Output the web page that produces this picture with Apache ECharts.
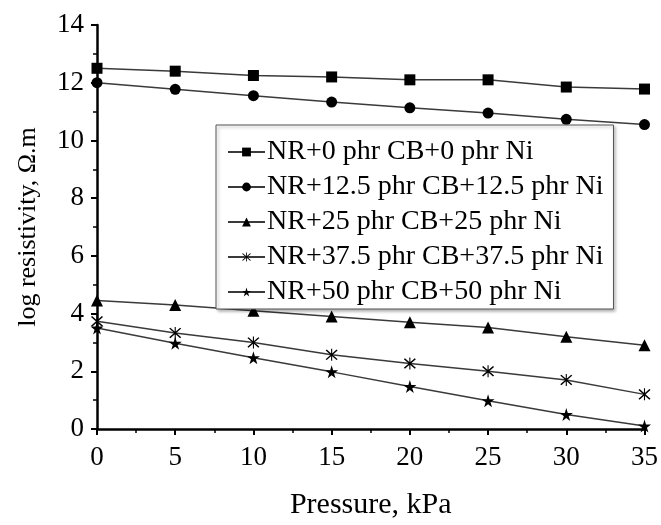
<!DOCTYPE html>
<html>
<head>
<meta charset="utf-8">
<script src="https://cdn.jsdelivr.net/npm/echarts@6/dist/echarts.min.js"></script>
<style>html,body{margin:0;padding:0;background:#fff}#c{width:661px;height:525px}</style>
</head>
<body>
<div id="c"></div>
<script>
var pressure = [0, 5, 10, 15, 20, 25, 30, 35];
var seriesNames = [
  'NR+0 phr CB+0 phr Ni',
  'NR+12.5 phr CB+12.5 phr Ni',
  'NR+25 phr CB+25 phr Ni',
  'NR+37.5 phr CB+37.5 phr Ni',
  'NR+50 phr CB+50 phr Ni'
];
var cb0 = [12.5, 12.4, 12.25, 12.2, 12.1, 12.1, 11.85, 11.78];
var cb12 = [12.0, 11.77, 11.55, 11.33, 11.13, 10.95, 10.73, 10.55];
var cb25 = [4.45, 4.3, 4.1, 3.9, 3.7, 3.52, 3.2, 2.9];
var cb37 = [3.73, 3.33, 3.0, 2.57, 2.27, 2.0, 1.7, 1.2];
var cb50 = [3.5, 2.97, 2.47, 1.98, 1.47, 0.98, 0.5, 0.1];

var STAR = 'path://M50,0 L61,35 L98,35 L68,57 L79,91 L50,70 L21,91 L32,57 L2,35 L39,35 Z';
var AST = 'path://M46,0 L54,0 L54,100 L46,100 Z M6,14 L14,6 L94,86 L86,94 Z M86,6 L94,14 L14,94 L6,86 Z';
var values = [cb0, cb12, cb25, cb37, cb50];
var symbols = ['rect', 'circle', 'triangle', AST, STAR];
var sizes = [11, 11, 12, 12, 13];

var font = '"Liberation Serif", "Times New Roman", serif';
var series = values.map(function (v, i) {
  return {
    name: seriesNames[i],
    type: 'line',
    data: pressure.map(function (p, j) { return [p, v[j]]; }),
    symbol: symbols[i],
    symbolSize: sizes[i],
    showAllSymbol: true,
    lineStyle: { color: '#3a3a3a', width: 1.5 },
    itemStyle: { color: '#000' },
    animation: false,
    clip: false
  };
});

var chart = echarts.init(document.getElementById('c'), null, { renderer: 'canvas' });
chart.setOption({
  animation: false,
  backgroundColor: '#fff',
  grid: { left: 97, right: 15, top: 25, bottom: 91, containLabel: false },
  legend: {
    orient: 'vertical',
    left: 216,
    top: 125,
    padding: [13, 10, 3, 11],
    itemGap: 7,
    itemWidth: 37,
    itemHeight: 11,
    backgroundColor: '#fff',
    borderColor: '#555',
    borderWidth: 1,
    shadowColor: 'rgba(0,0,0,0.3)',
    shadowBlur: 3,
    shadowOffsetX: 2,
    shadowOffsetY: 2,
    textStyle: { fontFamily: font, fontSize: 28, color: '#000', padding: [0, 0, 0, -3] },
    data: seriesNames
  },
  xAxis: {
    type: 'value', min: 0, max: 35, interval: 5,
    name: 'Pressure, kPa', nameLocation: 'middle', nameGap: 61,
    nameTextStyle: { fontFamily: font, fontSize: 30, color: '#000' },
    axisLine: { lineStyle: { color: '#000', width: 2.5 } },
    axisTick: { show: true, inside: false, length: 6, lineStyle: { color: '#000', width: 2 } },
    minorTick: { show: true, splitNumber: 2, length: 4, lineStyle: { color: '#000', width: 1.5 } },
    axisLabel: { fontFamily: font, fontSize: 27, color: '#000', margin: 15 },
    splitLine: { show: false }
  },
  yAxis: {
    type: 'value', min: 0, max: 14, interval: 2,
    name: 'log resistivity, \u03A9.m', nameLocation: 'middle', nameGap: 56,
    nameTextStyle: { fontFamily: font, fontSize: 26, color: '#000' },
    axisLine: { show: true, lineStyle: { color: '#000', width: 2.5 } },
    axisTick: { show: true, inside: false, length: 6, lineStyle: { color: '#000', width: 2 } },
    minorTick: { show: true, splitNumber: 2, length: 4, lineStyle: { color: '#000', width: 1.5 } },
    axisLabel: { fontFamily: font, fontSize: 27, color: '#000', margin: 13 },
    splitLine: { show: false }
  },
  series: series
});
</script>
</body>
</html>
